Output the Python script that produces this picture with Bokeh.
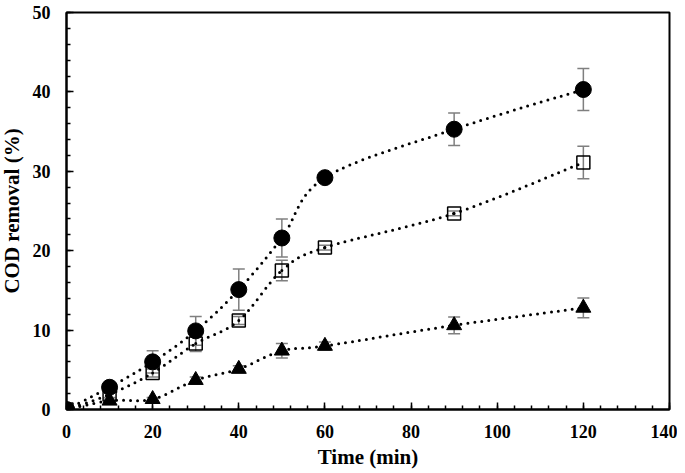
from bokeh.plotting import figure
from bokeh.models import Whisker, TeeHead, ColumnDataSource, Range1d, SingleIntervalTicker
from bokeh.embed import file_html
from bokeh.resources import INLINE

time_min = [0, 10, 20, 30, 40, 50, 60, 90, 120]
circle_vals = [0, 2.8, 6.0, 9.9, 15.1, 21.6, 29.2, 35.3, 40.3]
circle_err = [0, 0.3, 1.4, 1.8, 2.6, 2.4, 0.4, 2.05, 2.65]
square_vals = [0, 1.9, 4.6, 8.3, 11.2, 17.5, 20.4, 24.7, 31.1]
square_err = [0, 0.4, 0.5, 1.0, 0.5, 1.3, 0.3, 0.3, 2.05]
tri_vals = [0, 1.1, 1.3, 3.7, 5.1, 7.4, 8.0, 10.6, 12.8]
tri_err = [0, 0.2, 0.2, 0.4, 0.4, 0.9, 0.5, 1.05, 1.25]

FONT = "Liberation Serif"

p = figure(width=681, height=473, output_backend="svg", toolbar_location=None,
           x_range=Range1d(0, 140), y_range=Range1d(0, 50),
           min_border_left=70, min_border_right=8, min_border_top=12, min_border_bottom=64)
p.styles = {"margin-left": "-4px"}
p.grid.visible = False
p.outline_line_color = "black"
p.outline_line_width = 2
p.background_fill_color = "white"

for ax in (p.xaxis[0], p.yaxis[0]):
    ax.axis_line_width = 2
    ax.axis_line_color = "black"
    ax.major_tick_in = 7
    ax.major_tick_out = 0
    ax.minor_tick_in = 4
    ax.minor_tick_out = 0
    ax.major_tick_line_width = 1.5
    ax.minor_tick_line_width = 1.5
    ax.major_label_text_font = FONT
    ax.major_label_text_font_style = "bold"
    ax.major_label_text_font_size = "18px"
    ax.major_label_text_color = "black"
    ax.axis_label_text_font = FONT
    ax.axis_label_text_font_style = "bold"
    ax.axis_label_text_font_size = "21px"
    ax.axis_label_text_color = "black"

p.xaxis[0].ticker = SingleIntervalTicker(interval=20, num_minor_ticks=5)
p.yaxis[0].ticker = SingleIntervalTicker(interval=10, num_minor_ticks=5)
p.xaxis[0].major_label_standoff = 15
p.yaxis[0].major_label_standoff = 16
p.xaxis[0].axis_label = "Time (min)"
p.yaxis[0].axis_label = "COD removal (%)"
p.xaxis[0].axis_label_standoff = 4
p.yaxis[0].axis_label_standoff = 6


def smooth_segments(xs, ys):
    x0, y0, x1, y1, cx0, cy0, cx1, cy1 = [], [], [], [], [], [], [], []
    n = len(xs)
    for i in range(n - 1):
        xp, yp = (xs[i - 1], ys[i - 1]) if i > 0 else (xs[i], ys[i])
        xn, yn = (xs[i + 2], ys[i + 2]) if i + 2 < n else (xs[i + 1], ys[i + 1])
        x0.append(xs[i]); y0.append(ys[i])
        x1.append(xs[i + 1]); y1.append(ys[i + 1])
        cx0.append(xs[i] + (xs[i + 1] - xp) / 6.0)
        cy0.append(ys[i] + (ys[i + 1] - yp) / 6.0)
        cx1.append(xs[i + 1] - (xn - xs[i]) / 6.0)
        cy1.append(ys[i + 1] - (yn - ys[i]) / 6.0)
    return dict(x0=x0, y0=y0, x1=x1, y1=y1, cx0=cx0, cy0=cy0, cx1=cx1, cy1=cy1)


series = [
    (circle_vals, circle_err),
    (square_vals, square_err),
    (tri_vals, tri_err),
]

for vals, errs in series:
    seg = smooth_segments(time_min, vals)
    p.bezier(x0="x0", y0="y0", x1="x1", y1="y1", cx0="cx0", cy0="cy0", cx1="cx1", cy1="cy1",
             source=ColumnDataSource(seg), line_color="black", line_width=3,
             line_dash="0 7", line_cap="round")

for vals, errs in series:
    src = ColumnDataSource(dict(x=time_min,
                                upper=[v + e for v, e in zip(vals, errs)],
                                lower=[v - e for v, e in zip(vals, errs)]))
    w = Whisker(base="x", upper="upper", lower="lower", source=src, dimension="height",
                line_color="#7f7f7f", line_width=1.5,
                upper_head=TeeHead(size=12, line_color="#7f7f7f", line_width=1.5),
                lower_head=TeeHead(size=12, line_color="#7f7f7f", line_width=1.5))
    p.add_layout(w)

p.scatter(time_min, circle_vals, marker="circle", size=16, fill_color="black", line_color="black")
p.scatter(time_min, square_vals, marker="square", size=13, fill_alpha=0, line_color="black", line_width=1.5)
p.scatter(time_min, tri_vals, marker="triangle", size=15, fill_color="black", line_color="black")

open("out.html", "w").write(file_html(p, INLINE))
